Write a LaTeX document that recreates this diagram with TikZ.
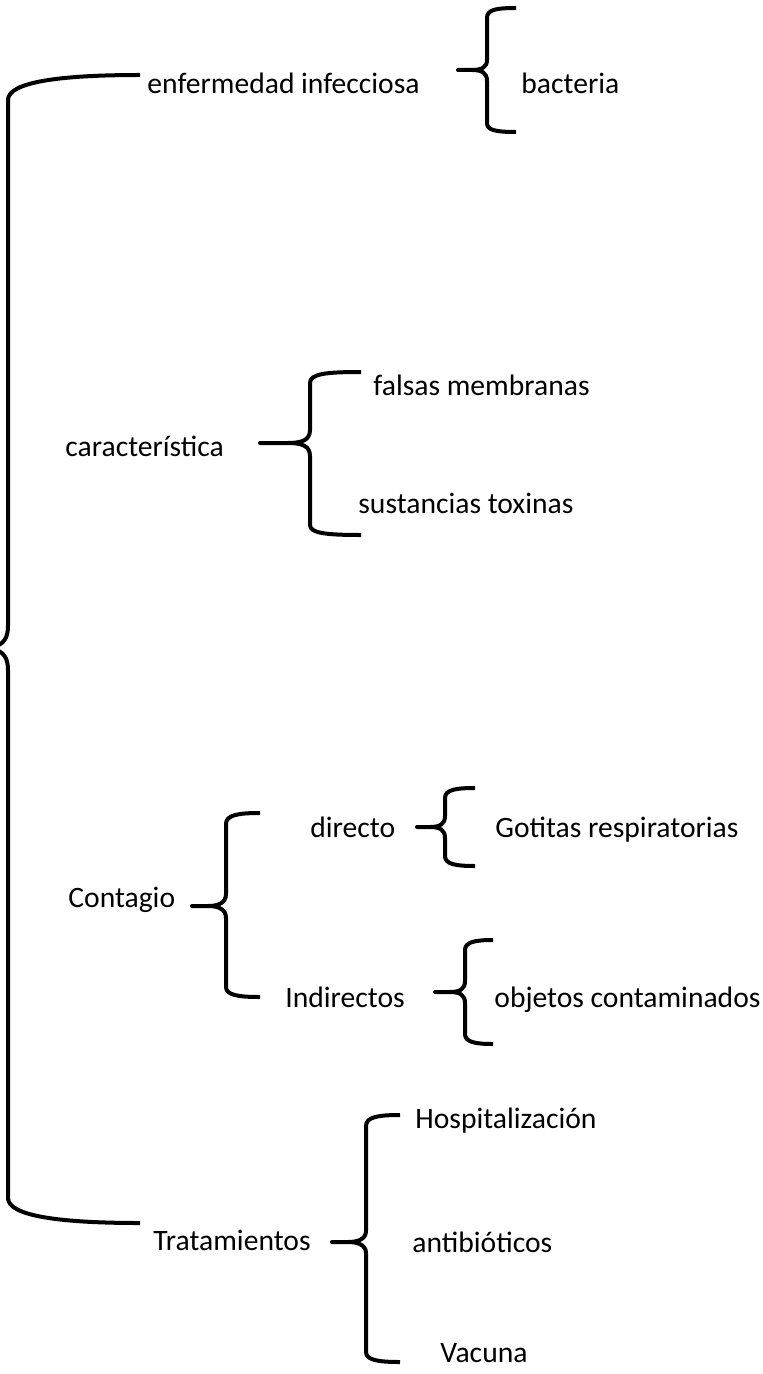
\documentclass[tikz,border=0pt]{standalone}
\usepackage{fontspec}
\setmainfont{Carlito}
\tikzset{
	llave/.style={line width=2pt, line join=round},
	texto/.style={anchor=west, inner sep=0pt, text height=10pt, text depth=2.5pt, font=\fontsize{14.8}{17}\selectfont}
}
\begin{document}
\begin{tikzpicture}[x=0.5pt, y=-0.5pt]
	\useasboundingbox (0,0) rectangle (763,1374);
	% Textos
		% Primer bloque
			\node[texto] (enfermedad) at (147,86) {enfermedad infecciosa};
			\node[texto] (bacteria) at (521,86) {bacteria};
			\node[texto] (caracteristica) at (65,449) {característica};
			\node[texto] (falsas) at (373,388) {falsas membranas};
			\node[texto] (sustancias) at (358,506) {sustancias toxinas};
		% Segundo bloque
			\node[texto] (contagio) at (68,900) {Contagio};
			\node[texto] (directo) at (310,830) {directo};
			\node[texto] (gotitas) at (495,830) {Gotitas respiratorias};
			\node[texto] (indirectos) at (285,1000) {Indirectos};
			\node[texto] (objetos) at (494,1000) {objetos contaminados};
			\node[texto] (tratamientos) at (153,1243) {Tratamientos};
			\node[texto] (hospital) at (415,1121) {Hospitalización};
			\node[texto] (antibioticos) at (412,1245) {antibióticos};
			\node[texto] (vacuna) at (440,1355) {Vacuna};
	% Llaves
		% Llave grande
			\draw[llave] (140,75) .. controls (60,75) and (8,82) .. (8,100) -- (8,626) .. controls (8,638) and (4,644) .. (-8,648) .. controls (4,652) and (8,658) .. (8,670) -- (8,1198) .. controls (8,1216) and (60,1223) .. (140,1223);
		% enfermedad infecciosa
			\draw[llave] (516,8) .. controls (495,8) and (487,10) .. (487,18) -- (487,60) .. controls (487,67) and (482,70) .. (472,70) -- (458,70) -- (472,70) .. controls (482,70) and (487,73) .. (487,81) -- (487,123) .. controls (487,130) and (495,132) .. (516,132);
		% característica
			\draw[llave] (361,372) .. controls (325,372) and (310,374) .. (310,383) -- (310,430) .. controls (310,440) and (302,443) .. (288,443) -- (260,443) -- (288,443) .. controls (302,443) and (310,446) .. (310,456) -- (310,525) .. controls (310,533) and (325,535) .. (361,535);
		% Contagio
			\draw[llave] (260,813) .. controls (238,813) and (226,815) .. (226,824) -- (226,894) .. controls (226,903) and (218,906) .. (208,906) -- (192,906) -- (208,906) .. controls (218,906) and (226,909) .. (226,918) -- (226,987) .. controls (226,995) and (238,997) .. (260,997);
		% directo
			\draw[llave] (475,788) .. controls (455,788) and (445,790) .. (445,798) -- (445,816) .. controls (445,824) and (440,827) .. (430,827) -- (417,827) -- (430,827) .. controls (440,827) and (445,830) .. (445,838) -- (445,856) .. controls (445,864) and (455,866) .. (475,866);
		% Indirectos
			\draw[llave] (493,940) .. controls (475,940) and (465,942) .. (465,950) -- (465,981) .. controls (465,989) and (460,992) .. (450,992) -- (435,992) -- (450,992) .. controls (460,992) and (465,995) .. (465,1003) -- (465,1034) .. controls (465,1042) and (475,1044) .. (493,1044);
		% Tratamientos
			\draw[llave] (400,1115) .. controls (378,1115) and (366,1117) .. (366,1126) -- (366,1231) .. controls (366,1239) and (358,1242) .. (348,1242) -- (332,1242) -- (348,1242) .. controls (358,1242) and (366,1245) .. (366,1253) -- (366,1352) .. controls (366,1360) and (378,1362) .. (400,1362);
\end{tikzpicture}
\end{document}
